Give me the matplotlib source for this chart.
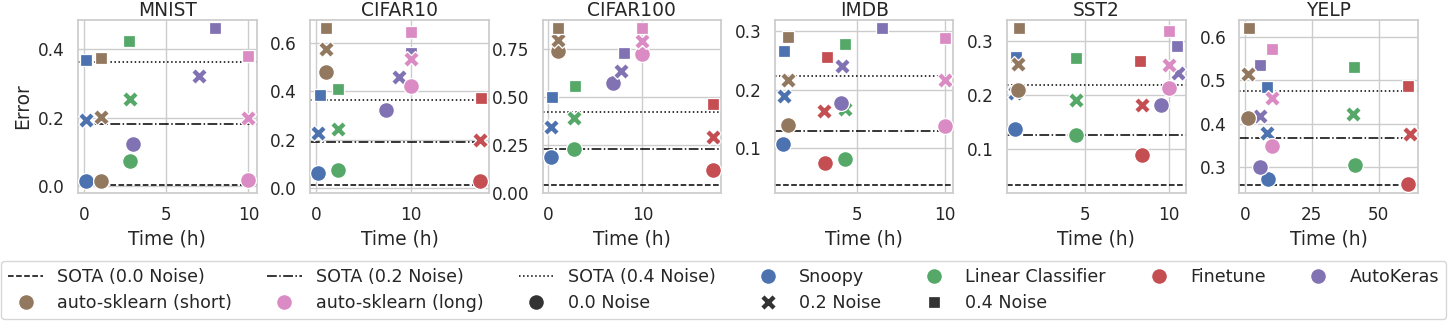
import matplotlib
matplotlib.use("Agg")
import matplotlib.pyplot as plt
import seaborn as sns
from matplotlib.lines import Line2D

# ---------------- data ----------------
DATASETS = ["MNIST", "CIFAR10", "CIFAR100", "IMDB", "SST2", "YELP"]
METHODS = ["Snoopy", "Linear Classifier", "Finetune", "AutoKeras",
           "auto-sklearn (short)", "auto-sklearn (long)"]
NOISE_LEVELS = ["0.0 Noise", "0.2 Noise", "0.4 Noise"]
SOTA_LABELS = ["SOTA (0.0 Noise)", "SOTA (0.2 Noise)", "SOTA (0.4 Noise)"]

# rows: methods (order of METHODS), columns: noise 0.0 / 0.2 / 0.4 ; None = not run
MNIST_TIME = [[0.1, 0.1, 0.1], [2.75, 2.75, 2.72], None, [2.94, 7.0, 7.95],
              [1.0, 1.0, 1.0], [10.0, 10.0, 10.0]]
MNIST_ERR = [[0.016, 0.193, 0.370], [0.075, 0.255, 0.424], None, [0.122, 0.323, 0.463],
             [0.016, 0.201, 0.375], [0.018, 0.199, 0.381]]
MNIST_SOTA = [0.003, 0.183, 0.364]

CIFAR10_TIME = [[0.28, 0.28, 0.4], [2.38, 2.38, 2.38], [17.3, 17.3, 17.4], [7.38, 8.74, 10.0],
                [1.05, 1.05, 1.05], [10.0, 10.0, 10.0]]
CIFAR10_ERR = [[0.064, 0.227, 0.387], [0.073, 0.244, 0.410], [0.031, 0.200, 0.371],
               [0.322, 0.458, 0.561], [0.479, 0.574, 0.663], [0.421, 0.536, 0.645]]
CIFAR10_SOTA = [0.012, 0.189, 0.364]

CIFAR100_TIME = [[0.25, 0.25, 0.35], [2.75, 2.75, 2.85], [17.5, 17.5, 17.5], [6.9, 7.7, 8.06],
                 [1.0, 1.0, 1.0], [10.0, 10.0, 10.0]]
CIFAR100_ERR = [[0.187, 0.344, 0.500], [0.227, 0.393, 0.555], [0.118, 0.292, 0.466],
                [0.572, 0.633, 0.729], [0.738, 0.799, 0.860], [0.724, 0.793, 0.860]]
CIFAR100_SOTA = [0.044, 0.231, 0.424]

IMDB_TIME = [[0.81, 0.85, 0.85], [4.34, 4.32, 4.34], [3.2, 3.14, 3.29], [4.08, 4.17, 6.39],
             [1.07, 1.07, 1.07], [9.96, 9.96, 10.0]]
IMDB_ERR = [[0.107, 0.190, 0.267], [0.082, 0.167, 0.278], [0.075, 0.163, 0.257],
            [0.177, 0.241, 0.306], [0.140, 0.216, 0.290], [0.139, 0.216, 0.289]]
IMDB_SOTA = [0.037, 0.130, 0.224]

SST2_TIME = [[0.87, 0.87, 0.9], [4.46, 4.46, 4.46], [8.41, 8.41, 8.33], [9.54, 10.54, 10.5],
             [1.01, 1.01, 1.07], [10.0, 10.0, 10.0]]
SST2_ERR = [[0.137, 0.205, 0.272], [0.127, 0.191, 0.270], [0.090, 0.183, 0.264],
            [0.183, 0.241, 0.292], [0.210, 0.259, 0.325], [0.213, 0.257, 0.319]]
SST2_SOTA = [0.034, 0.127, 0.220]

YELP_TIME = [[8.4, 8.0, 8.25], [41.25, 40.6, 40.9], [61.1, 61.75, 60.9], [5.4, 5.5, 5.5],
             [0.9, 0.9, 1.25], [10.0, 10.0, 10.0]]
YELP_ERR = [[0.273, 0.378, 0.485], [0.305, 0.422, 0.532], [0.261, 0.376, 0.488],
            [0.300, 0.419, 0.535], [0.413, 0.515, 0.621], [0.350, 0.459, 0.573]]
YELP_SOTA = [0.259, 0.367, 0.476]

XTICKS = [[0, 5, 10], [0, 10], [0, 10], [5, 10], [5, 10], [0, 25, 50]]
YTICKS = [[0.0, 0.2, 0.4], [0.0, 0.2, 0.4, 0.6], [0.0, 0.25, 0.5, 0.75],
          [0.1, 0.2, 0.3], [0.1, 0.2, 0.3], [0.3, 0.4, 0.5, 0.6]]

# ---------------- style ----------------
sns.set_theme(context="notebook", style="whitegrid", font_scale=1.1)
plt.rcParams["font.family"] = ["DejaVu Sans"]

palette = sns.color_palette("deep")
COLORS = [palette[0], palette[2], palette[3], palette[4], palette[5], palette[6]]
MARKERS = ["o", "X", (4, 0, 45)]
SOTA_STYLES = ["--", "-.", ":"]
S = 130

TIMES = [MNIST_TIME, CIFAR10_TIME, CIFAR100_TIME, IMDB_TIME, SST2_TIME, YELP_TIME]
ERRS = [MNIST_ERR, CIFAR10_ERR, CIFAR100_ERR, IMDB_ERR, SST2_ERR, YELP_ERR]
SOTAS = [MNIST_SOTA, CIFAR10_SOTA, CIFAR100_SOTA, IMDB_SOTA, SST2_SOTA, YELP_SOTA]

fig, axes = plt.subplots(1, 6, figsize=(14.52, 3.28), dpi=100)
fig.subplots_adjust(left=78 / 1452, right=1418 / 1452, top=1 - 20 / 328,
                    bottom=1 - 193 / 328, wspace=0.301)

for k, ax in enumerate(axes):
    for j, sota in enumerate(SOTAS[k]):
        ax.axhline(sota, color="black", ls=SOTA_STYLES[j], lw=1.1, zorder=1)
    for m in range(len(METHODS)):
        if TIMES[k][m] is None:
            continue
        for n in range(len(NOISE_LEVELS)):
            ax.scatter(TIMES[k][m][n], ERRS[k][m][n], s=S, marker=MARKERS[n],
                       color=COLORS[m], edgecolor="white",
                       linewidth=0.08 * S ** 0.5, zorder=3)
    ax.set_title(DATASETS[k], fontsize=13.4, pad=3)
    ax.set_xlabel("Time (h)", fontsize=13.4)
    ax.set_xticks(XTICKS[k])
    ax.set_yticks(YTICKS[k])
    ax.tick_params(labelsize=12.2)
axes[0].set_ylabel("Error", fontsize=13.4)

# ---------------- legend ----------------
sota_h = [Line2D([], [], color="black", ls=st, lw=1.1) for st in SOTA_STYLES]
meth_h = [Line2D([], [], ls="", marker="o", markersize=S ** 0.5, color=c,
                 markeredgecolor="white", markeredgewidth=0.08 * S ** 0.5) for c in COLORS]
noise_h = [Line2D([], [], ls="", marker=mk, markersize=S ** 0.5, color=".2",
                  markeredgecolor="white", markeredgewidth=0.08 * S ** 0.5) for mk in MARKERS]

handles = [sota_h[0], meth_h[4], sota_h[1], meth_h[5], sota_h[2], noise_h[0],
           meth_h[0], noise_h[1], meth_h[1], noise_h[2], meth_h[2], meth_h[3]]
labels = [SOTA_LABELS[0], METHODS[4], SOTA_LABELS[1], METHODS[5], SOTA_LABELS[2],
          NOISE_LEVELS[0], METHODS[0], NOISE_LEVELS[1], METHODS[1], NOISE_LEVELS[2],
          METHODS[2], METHODS[3]]
fig.legend(handles, labels, ncol=7, loc="center left",
           bbox_to_anchor=(1 / 1452, 1 - 290 / 328), borderaxespad=0,
           fontsize=12.6, columnspacing=2.0, handlelength=2.0, handletextpad=0.8)

fig.savefig("out.png", dpi=100)
